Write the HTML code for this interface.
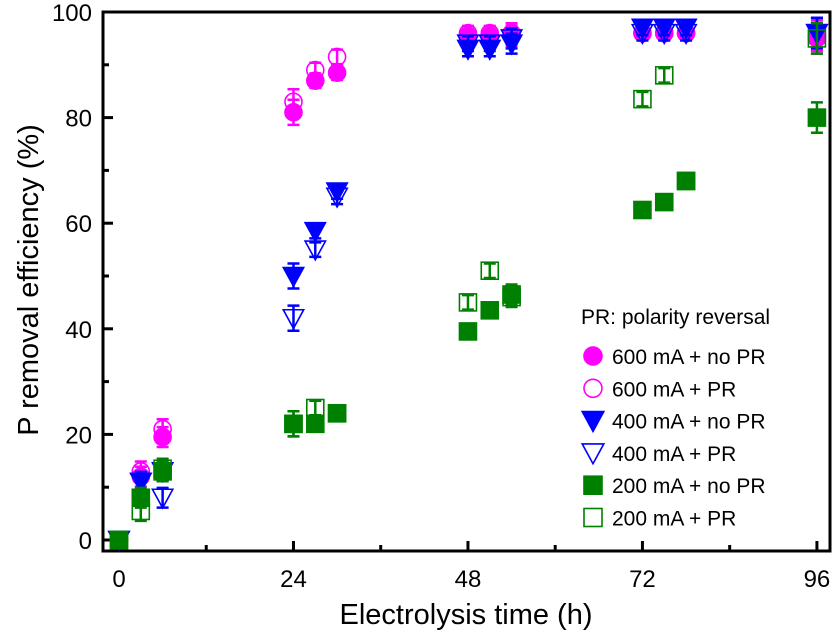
<!DOCTYPE html>
<html><head><meta charset="utf-8"><style>
body{margin:0;background:#fff}
svg{display:block;font-family:"Liberation Sans",Arial,sans-serif}
</style></head><body>
<svg id="chart" width="834" height="636">
<g id="axes"></g>
<g id="marks"></g>
<g id="legend"></g>
</svg>
<script>
const times=[0,3,6,24,27,30,48,51,54,72,75,78,96];
const s600no=[0,12,19.5,81,87,88.5,95.5,95.5,95.5,96,96,96,95];
const s600pr=[0,13,21,83,89,91.5,96,96,96,96,96,96,95.5];
const s400no=[0,11,13,50,58.5,66,93,93,94,97,97,97,96];
const s400pr=[0,11,8,42,55,65,94,94,95,96,96,96,96];
const s200no=[0,8,13,22,22,24,39.5,43.5,46.5,62.5,64,68,80];
const s200pr=[0,5.5,13.5,22,25,24,45,51,46,83.5,88,68,95];
const errs=[0.5,1.5,1.5,2,1,1,1,1,1.5,1,1,1,2.5];
const xTicks=[0,24,48,72,96];
const yTicks=[0,20,40,60,80,100];
const series=[
 {name:"600 mA + no PR",vals:s600no,color:"#ff00ff",shape:"circle",fill:true},
 {name:"600 mA + PR",vals:s600pr,color:"#ff00ff",shape:"circle",fill:false},
 {name:"400 mA + no PR",vals:s400no,color:"#0000ff",shape:"tri",fill:true},
 {name:"400 mA + PR",vals:s400pr,color:"#0000ff",shape:"tri",fill:false},
 {name:"200 mA + no PR",vals:s200no,color:"#008000",shape:"sq",fill:true},
 {name:"200 mA + PR",vals:s200pr,color:"#008000",shape:"sq",fill:false}
];
const NS="http://www.w3.org/2000/svg";
const X=v=>119+v*7.27;
const Y=v=>540-v*5.28;
function mk(tag,attrs,parent,text){const e=document.createElementNS(NS,tag);for(const k in attrs)e.setAttribute(k,attrs[k]);if(text!==undefined)e.textContent=text;parent.appendChild(e);return e;}
const axes=document.getElementById('axes'),marks=document.getElementById('marks'),legend=document.getElementById('legend');
const frame=mk('rect',{x:103,y:12,width:727,height:539,fill:'none',stroke:'#000','stroke-width':3},axes);


xTicks.forEach(t=>{
 const l=mk('line',{x1:X(t),x2:X(t),y1:551,y2:541,stroke:'#000','stroke-width':3},axes);
 
 
 const m=mk('line',{x1:X(t+12),x2:X(t+12),y1:551,y2:545,stroke:'#000','stroke-width':3},axes);
 
 
 const tx=mk('text',{x:X(t),y:587,'font-size':24,'text-anchor':'middle'},axes,String(t));
 
 
});
yTicks.forEach(t=>{
 const l=mk('line',{x1:103,x2:113,y1:Y(t),y2:Y(t),stroke:'#000','stroke-width':3},axes);
 
 
 if(t<100){const m=mk('line',{x1:103,x2:109,y1:Y(t+10),y2:Y(t+10),stroke:'#000','stroke-width':3},axes);
 
 }
 const tx=mk('text',{x:92,y:Y(t)+9,'font-size':24,'text-anchor':'end'},axes,String(t));
 
 
});
const xt=mk('text',{x:466,y:624,'font-size':29,'text-anchor':'middle'},axes,'Electrolysis time (h)');


const yt=mk('text',{x:0,y:0,'font-size':29,'text-anchor':'middle',transform:'translate(38,280) rotate(-90)'},axes,'P removal efficiency (%)');


function marker(g,shape,cx,cy,color,fill,r){
 if(shape==='circle')return mk('circle',{cx:cx,cy:cy,r:r,fill:fill?color:'none',stroke:color,'stroke-width':1.6},g);
 if(shape==='tri')return mk('polygon',{points:`${cx-r*1.2},${cy-r} ${cx+r*1.2},${cy-r} ${cx},${cy+r*1.2}`,fill:fill?color:'none',stroke:color,'stroke-width':1.6},g);
 return mk('rect',{x:cx-r,y:cy-r,width:2*r,height:2*r,fill:fill?color:'none',stroke:color,'stroke-width':1.6},g);
}
series.forEach((s,si)=>{
 const g=mk('g',{},marks);
 
 
 s.vals.forEach((v,i)=>{
  const cx=X(times[i]),cy=Y(v),e=errs[i]*5.28;
  const eb=mk('path',{d:`M${cx},${cy-e-2}V${cy+e+2}M${cx-6},${cy-e-2}H${cx+6}M${cx-6},${cy+e+2}H${cx+6}`,stroke:s.color,'stroke-width':2.5,fill:'none'},g);
  
  
  const m=marker(g,s.shape,cx,cy,s.color,s.fill,8.5);
  
  
 });
});
const lt=mk('text',{x:581,y:324,'font-size':21},legend,'PR: polarity reversal');


series.forEach((s,i)=>{
 const y=356+i*32.3;
 const m=marker(legend,s.shape,593,y,s.color,s.fill,9);
 
 
 const t=mk('text',{x:612,y:y+8,'font-size':21},legend,s.name);
 
 
});
</script>
</body></html>
